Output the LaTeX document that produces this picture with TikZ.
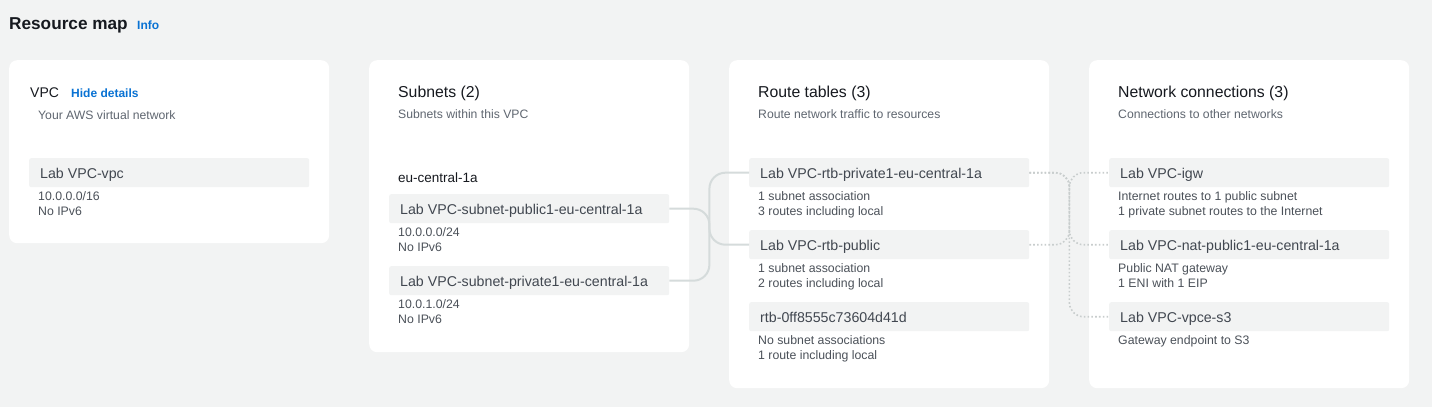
\documentclass[tikz,border=0pt]{standalone}
\usepackage{fontspec}
\setmainfont{Liberation Sans}
\definecolor{pagebg}{HTML}{F2F3F3}
\definecolor{rowfill}{HTML}{F2F3F3}
\definecolor{headtext}{HTML}{16191F}
\definecolor{labeltext}{HTML}{414750}
\definecolor{infotext}{HTML}{4B5159}
\definecolor{subtext}{HTML}{5F6670}
\definecolor{linkblue}{HTML}{0972D3}
\definecolor{wire}{HTML}{D5DBDB}
\definecolor{dotwire}{HTML}{C8CDCD}

\begin{document}
\begin{tikzpicture}[x=1pt,y=-1pt]
\tikzset{
  panel/.style={fill=white,rounded corners=8pt,anchor=north west,inner sep=0pt,minimum width=320pt},
  rowbox/.style={fill=rowfill,rounded corners=2pt,anchor=north west,inner sep=0pt,minimum width=280pt,minimum height=29pt},
  maptitle/.style={anchor=base west,inner sep=0pt,text=headtext,font=\fontsize{17.2}{20}\selectfont\bfseries},
  linktext/.style={anchor=base west,inner sep=0pt,text=linkblue,font=\fontsize{12}{14}\selectfont\bfseries},
  headtext/.style={anchor=base west,inner sep=0pt,text=headtext,font=\fontsize{15.8}{18}\selectfont},
  subtext/.style={anchor=base west,inner sep=0pt,text=subtext,font=\fontsize{12.2}{14}\selectfont},
  rowlabel/.style={anchor=base west,inner sep=0pt,text=labeltext,font=\fontsize{14.2}{16}\selectfont},
  infotext/.style={anchor=base west,inner sep=0pt,text=infotext,font=\fontsize{12.3}{14}\selectfont},
  solidwire/.style={draw=wire,line width=2pt,rounded corners=16pt},
  dotwire/.style={draw=dotwire,line width=1.6pt,dash pattern=on 1.6pt off 2.2pt,rounded corners=14pt}
}
\fill[pagebg] (0,0) rectangle (1432,407);
\node[maptitle] (t_map) at (9,29) {Resource map};
\node[linktext] (t_info) at (137,29) {Info};
% VPC
\node[panel,minimum height=183pt] (p_vpc) at (9,60) {};
\node[headtext,font=\fontsize{14}{16}\selectfont] (h_vpc) at (30,97) {VPC};
\node[linktext] (t_hide) at (71,97) {Hide details};
\node[subtext] (s_vpc) at (38,119) {Your AWS virtual network};
\node[rowbox] (r_vpc) at (29,158) {};
\node[rowlabel] (l_vpc) at (40,178) {Lab VPC-vpc};
\node[infotext] (i_vpc1) at (38,200) {10.0.0.0/16};
\node[infotext] (i_vpc2) at (38,215) {No IPv6};
% subnets
\node[panel,minimum height=292pt] (p_sub) at (369,60) {};
\node[headtext] (h_sub) at (398,97) {Subnets (2)};
\node[subtext] (s_sub) at (398,118) {Subnets within this VPC};
\node[rowlabel,text=headtext,font=\fontsize{13.5}{16}\selectfont] (t_az) at (398,182) {eu-central-1a};
\node[rowbox] (r_subpub) at (389,194) {};
\node[rowlabel] (l_subpub) at (400,214) {Lab VPC-subnet-public1-eu-central-1a};
\node[infotext] (i_subpub1) at (398,236) {10.0.0.0/24};
\node[infotext] (i_subpub2) at (398,251) {No IPv6};
\node[rowbox] (r_subpriv) at (389,266) {};
\node[rowlabel] (l_subpriv) at (400,286) {Lab VPC-subnet-private1-eu-central-1a};
\node[infotext] (i_subpriv1) at (398,308) {10.0.1.0/24};
\node[infotext] (i_subpriv2) at (398,323) {No IPv6};
% route tables
\node[panel,minimum height=328pt] (p_rtb) at (729,60) {};
\node[headtext] (h_rtb) at (758,97) {Route tables (3)};
\node[subtext] (s_rtb) at (758,118) {Route network traffic to resources};
\node[rowbox] (r_rtbpriv) at (749,158) {};
\node[rowlabel] (l_rtbpriv) at (760,178) {Lab VPC-rtb-private1-eu-central-1a};
\node[infotext] (i_rtbpriv1) at (758,200) {1 subnet association};
\node[infotext] (i_rtbpriv2) at (758,215) {3 routes including local};
\node[rowbox] (r_rtbpub) at (749,230) {};
\node[rowlabel] (l_rtbpub) at (760,250) {Lab VPC-rtb-public};
\node[infotext] (i_rtbpub1) at (758,272) {1 subnet association};
\node[infotext] (i_rtbpub2) at (758,287) {2 routes including local};
\node[rowbox] (r_rtbmain) at (749,302) {};
\node[rowlabel] (l_rtbmain) at (760,322) {rtb-0ff8555c73604d41d};
\node[infotext] (i_rtbmain1) at (758,344) {No subnet associations};
\node[infotext] (i_rtbmain2) at (758,359) {1 route including local};
% network connections
\node[panel,minimum height=328pt] (p_net) at (1089,60) {};
\node[headtext] (h_net) at (1118,97) {Network connections (3)};
\node[subtext] (s_net) at (1118,118) {Connections to other networks};
\node[rowbox] (r_igw) at (1109,158) {};
\node[rowlabel] (l_igw) at (1120,178) {Lab VPC-igw};
\node[infotext] (i_igw1) at (1118,200) {Internet routes to 1 public subnet};
\node[infotext] (i_igw2) at (1118,215) {1 private subnet routes to the Internet};
\node[rowbox] (r_nat) at (1109,230) {};
\node[rowlabel] (l_nat) at (1120,250) {Lab VPC-nat-public1-eu-central-1a};
\node[infotext] (i_nat1) at (1118,272) {Public NAT gateway};
\node[infotext] (i_nat2) at (1118,287) {1 ENI with 1 EIP};
\node[rowbox] (r_vpce) at (1109,302) {};
\node[rowlabel] (l_vpce) at (1120,322) {Lab VPC-vpce-s3};
\node[infotext] (i_vpce1) at (1118,344) {Gateway endpoint to S3};
% connectors
\draw[solidwire] (r_subpub.east) -- ++(40,0) |- (r_rtbpub.west);
\draw[solidwire] (r_subpriv.east) -- ++(40,0) |- (r_rtbpriv.west);
\draw[dotwire] (r_rtbpriv.east) -- ++(40,0) |- (r_nat.west);
\draw[dotwire] (r_rtbpriv.east) -- ++(40,0) |- (r_vpce.west);
\draw[dotwire] (r_rtbpub.east) -- ++(40,0) |- (r_igw.west);
\end{tikzpicture}
\end{document}
